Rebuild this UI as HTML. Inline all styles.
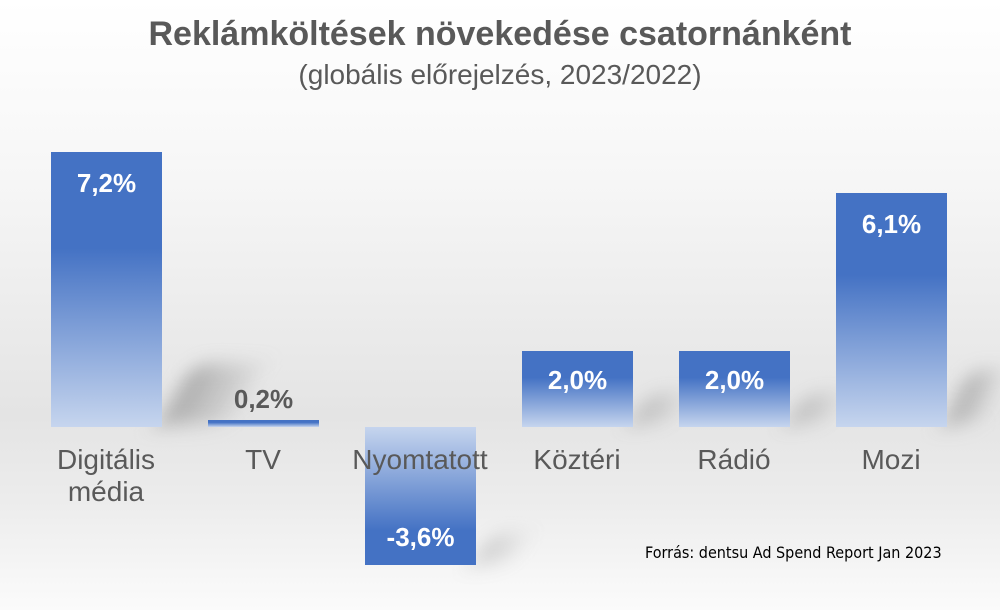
<!DOCTYPE html>
<html><head><meta charset="utf-8"><style>
body{margin:0}
#c{position:relative;width:1000px;height:610px;overflow:hidden;font-family:"Liberation Sans",sans-serif;
background:linear-gradient(to bottom,#ffffff 0%,#f6f6f6 30%,#e4e4e4 68%,#ececec 82%,#fbfbfb 100%)}
.t{position:absolute;left:0;width:1000px;text-align:center;color:#595959}
.bar{position:absolute;width:111px}
.pos{background:linear-gradient(to bottom,#4472c4 0%,#4472c4 35%,#c6d5ee 100%)}
.neg{background:linear-gradient(to top,#4472c4 0%,#4472c4 25%,#c6d5ee 100%)}
.sh{position:absolute;background:linear-gradient(to right,rgba(120,120,120,.55),rgba(150,150,150,.15));filter:blur(10px);transform-origin:bottom left}
.v{position:absolute;width:111px;text-align:center;font-weight:bold;font-size:26px;color:#fff}
.cat{position:absolute;width:200px;text-align:center;font-size:28px;color:#595959;line-height:32px}
</style></head><body><div id="c">
<div class="t" style="top:15px;font-size:34px;font-weight:bold">Reklámköltések növekedése csatornánként</div>
<div class="t" style="top:59px;font-size:28px">(globális előrejelzés, 2023/2022)</div>

<div class="sh" style="left:158px;top:365px;width:70px;height:60px;transform:skewX(-30deg);"></div>
<div class="sh" style="left:630px;top:395px;width:40px;height:30px;transform:skewX(-30deg);opacity:.7"></div>
<div class="sh" style="left:787px;top:395px;width:40px;height:30px;transform:skewX(-30deg);opacity:.7"></div>
<div class="sh" style="left:944px;top:372px;width:35px;height:53px;transform:skewX(-25deg);"></div>
<div class="sh" style="left:472px;top:535px;width:40px;height:30px;transform:skewX(-30deg);opacity:.6"></div>

<div class="bar pos" style="left:51px;top:152px;height:275px"></div>
<div class="bar pos" style="left:208px;top:420px;height:7px"></div>
<div class="bar neg" style="left:365px;top:427px;height:138px"></div>
<div class="bar pos" style="left:522px;top:351px;height:76px"></div>
<div class="bar pos" style="left:679px;top:351px;height:76px"></div>
<div class="bar pos" style="left:836px;top:193px;height:234px"></div>

<div class="v" style="left:51px;top:168px">7,2%</div>
<div class="v" style="left:208px;top:384px;color:#595959">0,2%</div>
<div class="v" style="left:365px;top:522px">-3,6%</div>
<div class="v" style="left:522px;top:365px">2,0%</div>
<div class="v" style="left:679px;top:365px">2,0%</div>
<div class="v" style="left:836px;top:209px">6,1%</div>

<div class="cat" style="left:6px;top:444px">Digitális<br>média</div>
<div class="cat" style="left:163px;top:444px">TV</div>
<div class="cat" style="left:320px;top:444px">Nyomtatott</div>
<div class="cat" style="left:477px;top:444px">Köztéri</div>
<div class="cat" style="left:634px;top:444px">Rádió</div>
<div class="cat" style="left:791px;top:444px">Mozi</div>

<div style="position:absolute;left:645px;top:543px;font-family:'DejaVu Sans Condensed','DejaVu Sans',sans-serif;font-size:16px;color:#000">Forrás: dentsu Ad Spend Report Jan 2023</div>
</div></body></html>
